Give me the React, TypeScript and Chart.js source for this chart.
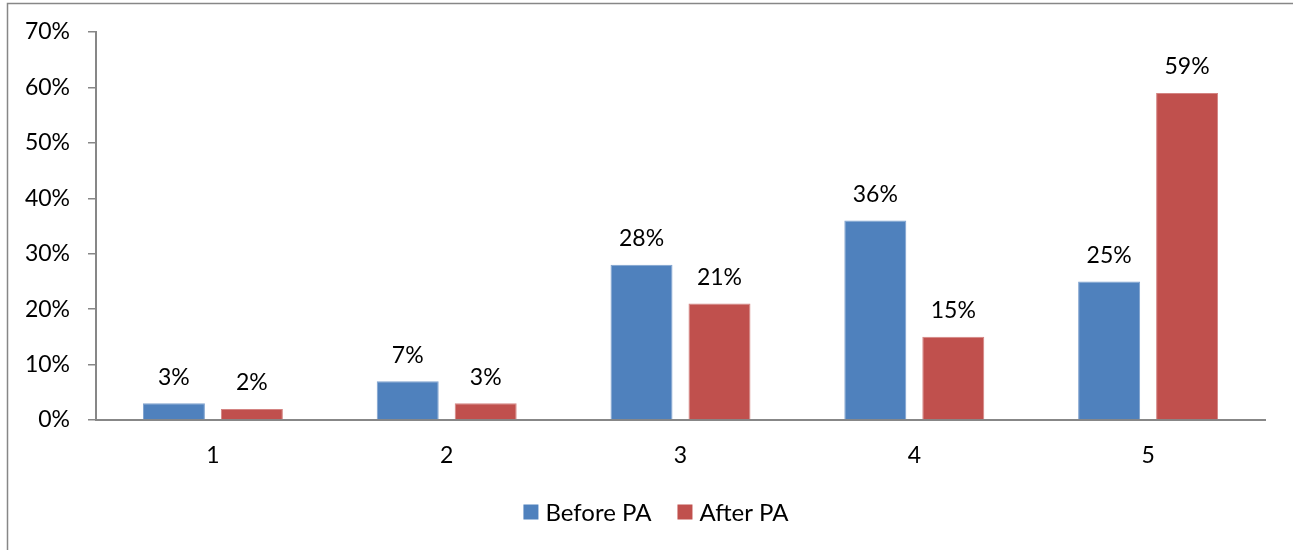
import React, { useEffect, useRef } from "react";
import { Chart, registerables } from "chart.js";

Chart.register(...registerables);

const categories = ["1", "2", "3", "4", "5"];
const beforePA = [3, 7, 28, 36, 25];
const afterPA = [2, 3, 21, 15, 59];
const seriesLabels = ["Before PA", "After PA"];
const yTicks = [0, 10, 20, 30, 40, 50, 60, 70];

const FONT = "Lato, 'Open Sans', sans-serif";
const FONT_SIZE = 23;
const BLUE = "#4F81BD";
const RED = "#C0504D";
const AXIS = "#878787";

const framePlugin = {
  id: "frame",
  beforeDraw(chart: any) {
    const ctx = chart.ctx;
    ctx.save();
    ctx.fillStyle = "#ffffff";
    ctx.fillRect(0, 0, chart.width, chart.height);
    ctx.strokeStyle = AXIS;
    ctx.lineWidth = 1.5;
    ctx.beginPath();
    ctx.moveTo(7.5, chart.height);
    ctx.lineTo(7.5, 3.5);
    ctx.lineTo(chart.width, 3.5);
    ctx.stroke();
    ctx.restore();
  },
};

const valueLabelPlugin = {
  id: "valueLabels",
  afterDatasetsDraw(chart: any) {
    const ctx = chart.ctx;
    ctx.save();
    ctx.fillStyle = "#000000";
    ctx.font = `${FONT_SIZE}px ${FONT}`;
    ctx.textAlign = "center";
    ctx.textBaseline = "middle";
    chart.data.datasets.forEach((ds: any, di: number) => {
      const meta = chart.getDatasetMeta(di);
      meta.data.forEach((el: any, i: number) => {
        ctx.fillText(`${ds.data[i]}%`, el.x, el.y - 26);
      });
    });
    ctx.restore();
  },
};

const legendPlugin = {
  id: "customLegend",
  afterDraw(chart: any) {
    const ctx = chart.ctx;
    ctx.save();
    ctx.font = `${FONT_SIZE + 1}px ${FONT}`;
    ctx.textBaseline = "middle";
    ctx.textAlign = "left";
    const box = 15;
    const gap = 7;
    const itemGap = 26;
    const items = chart.data.datasets.map((ds: any) => ({
      label: ds.label,
      color: ds.backgroundColor,
      w: box + gap + ctx.measureText(ds.label).width,
    }));
    const total = items.reduce((s: number, it: any) => s + it.w, 0) + itemGap * (items.length - 1);
    let x = 656 - total / 2;
    const y = 512;
    items.forEach((it: any) => {
      ctx.fillStyle = it.color;
      ctx.fillRect(x, y - box / 2, box, box);
      ctx.fillStyle = "#000000";
      ctx.fillText(it.label, x + box + gap, y + 1);
      x += it.w + itemGap;
    });
    ctx.restore();
  },
};

export default function App() {
  const ref = useRef<HTMLCanvasElement | null>(null);
  useEffect(() => {
    if (!ref.current) return;
    const chart = new Chart(ref.current, {
      type: "bar",
      data: {
        labels: categories,
        datasets: [
          {
            label: seriesLabels[0],
            data: beforePA,
            backgroundColor: BLUE,
            borderColor: "#7EA1CE",
            borderWidth: 1,
            categoryPercentage: 0.667,
            barPercentage: 0.795,
          },
          {
            label: seriesLabels[1],
            data: afterPA,
            backgroundColor: RED,
            borderColor: "#D48482",
            borderWidth: 1,
            categoryPercentage: 0.667,
            barPercentage: 0.795,
          },
        ],
      },
      options: {
        animation: false,
        responsive: false,
        maintainAspectRatio: false,
        layout: { padding: { top: 32, right: 28, left: 0, bottom: 0 } },
        plugins: {
          legend: { display: false },
          tooltip: { enabled: false },
        },
        scales: {
          x: {
            grid: { display: false, drawTicks: false },
            border: { display: true, color: AXIS, width: 2 },
            ticks: {
              color: "#000000",
              font: { family: FONT, size: FONT_SIZE },
              padding: 22,
            },
            afterFit: (s: any) => {
              s.height = 130;
            },
          },
          y: {
            min: 0,
            max: 70,
            afterBuildTicks: (s: any) => {
              s.ticks = yTicks.map((v) => ({ value: v }));
            },
            grid: {
              display: true,
              drawOnChartArea: false,
              drawTicks: true,
              tickLength: 8,
              color: AXIS,
              lineWidth: 1.5,
            },
            border: { display: true, color: AXIS, width: 2 },
            ticks: {
              color: "#000000",
              font: { family: FONT, size: FONT_SIZE },
              padding: 18,
              callback: (v: any) => `${v}%`,
            },
            afterFit: (s: any) => {
              s.width = 96;
            },
          },
        },
      },
      plugins: [framePlugin, valueLabelPlugin, legendPlugin],
    });
    return () => chart.destroy();
  }, []);
  return (
    <div style={{ position: "fixed", left: 0, top: 0, width: 1293, height: 550, background: "#fff" }}>
      <canvas ref={ref} width={1293} height={550} style={{ display: "block", width: 1293, height: 550 }} />
    </div>
  );
}
